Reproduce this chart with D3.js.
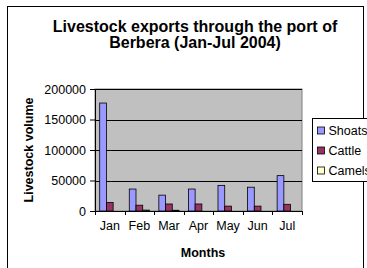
<!DOCTYPE html>
<html>
<head>
<meta charset="utf-8">
<script src="https://cdn.jsdelivr.net/npm/d3@7"></script>
<style>
  body { margin: 0; background: #fff; }
  svg text { font-family: "Liberation Sans", Arial, sans-serif; fill: #000; }
</style>
</head>
<body>
<svg id="chart"></svg>
<script>
// data
const months = ['Jan', 'Feb', 'Mar', 'Apr', 'May', 'Jun', 'Jul'];
const seriesNames = ['Shoats', 'Cattle', 'Camels'];
const shoats = [177000, 36000, 26000, 36000, 42000, 39000, 58000];
const cattle = [14000, 9500, 11500, 11500, 8000, 8000, 11000];
const camels = [0, 1500, 1200, 0, 0, 0, 0];
const yTicks = [0, 50000, 100000, 150000, 200000];
const colors = ['#9999ff', '#993366', '#ffffcc'];

const width = 367, height = 268;
const margin = {top: 89, right: 65, bottom: 57, left: 95};
const innerW = width - margin.left - margin.right;
const innerH = height - margin.top - margin.bottom;

const rows = months.map((m, i) => ({month: m, values: [shoats[i], cattle[i], camels[i]]}));

const svg = d3.select('#chart')
    .attr('width', width)
    .attr('height', height);

// outer chart border
svg.append('rect')
    .attr('x', 7.5).attr('y', 6.5)
    .attr('width', 356).attr('height', 270)
    .attr('fill', '#fff')
    .attr('stroke', '#000');

const chart = svg.append('g')
    .attr('transform', `translate(${margin.left},${margin.top})`);

const xScale = d3.scaleBand()
    .domain(months)
    .range([0, innerW]);

const xInner = d3.scaleBand()
    .domain(seriesNames)
    .range([0, xScale.bandwidth()])
    .paddingInner(0)
    .paddingOuter(0.7);

const yScale = d3.scaleLinear()
    .domain([0, 200000])
    .range([innerH, 0]);

// plot area
chart.append('rect')
    .attr('width', innerW).attr('height', innerH)
    .attr('fill', '#c0c0c0')
    .attr('stroke', '#808080');

chart.selectAll('.grid')
    .data(yTicks.slice(1))
    .join('line')
    .attr('class', 'grid')
    .attr('x1', 0).attr('x2', innerW)
    .attr('y1', d => Math.round(yScale(d)) + 0.5)
    .attr('y2', d => Math.round(yScale(d)) + 0.5)
    .attr('stroke', '#000');

// bars
const groups = chart.selectAll('.month')
    .data(rows)
    .join('g')
    .attr('class', 'month')
    .attr('transform', d => `translate(${xScale(d.month)},0)`);

groups.selectAll('rect')
    .data(d => d.values.map((v, j) => ({name: seriesNames[j], value: v, j})))
    .join('rect')
    .filter(d => d.value > 0)
    .attr('x', d => xInner(d.name))
    .attr('width', xInner.bandwidth())
    .attr('y', d => yScale(d.value))
    .attr('height', d => innerH - yScale(d.value))
    .attr('fill', d => colors[d.j])
    .attr('stroke', '#000')
    .attr('stroke-width', 0.8);

// axes
const xAxis = d3.axisBottom(xScale).tickSize(0).tickPadding(10);
const xAxisG = chart.append('g')
    .attr('transform', `translate(0,${innerH})`)
    .call(xAxis);
xAxisG.select('.domain').attr('stroke', '#000');
xAxisG.selectAll('text').attr('font-size', 12.5);
xAxisG.selectAll('.sep')
    .data(d3.range(months.length + 1))
    .join('line')
    .attr('class', 'sep')
    .attr('x1', i => Math.round(i * xScale.step()) + 0.5)
    .attr('x2', i => Math.round(i * xScale.step()) + 0.5)
    .attr('y1', 0).attr('y2', 4)
    .attr('stroke', '#000');

const yAxis = d3.axisLeft(yScale).tickValues(yTicks).tickSize(5).tickPadding(4).tickFormat(d3.format('d'));
const yAxisG = chart.append('g').call(yAxis);
yAxisG.select('.domain').attr('stroke', '#000').attr('d', `M0.5,${innerH}V0`);
yAxisG.selectAll('text').attr('font-size', 12.5);

// titles
const title = svg.append('text')
    .attr('x', 196).attr('text-anchor', 'middle')
    .attr('font-size', 16).attr('font-weight', 'bold');
title.append('tspan').attr('x', 195).attr('y', 32).text('Livestock exports through the port of');
title.append('tspan').attr('x', 195).attr('y', 48).text('Berbera (Jan-Jul 2004)');

svg.append('text')
    .attr('transform', 'translate(33,150) rotate(-90)')
    .attr('text-anchor', 'middle')
    .attr('font-size', 12.5).attr('font-weight', 'bold')
    .text('Livestock volume');

svg.append('text')
    .attr('x', 203).attr('y', 257)
    .attr('text-anchor', 'middle')
    .attr('font-size', 12.5).attr('font-weight', 'bold')
    .text('Months');

// legend
const legend = svg.append('g').attr('transform', 'translate(312.5,118.5)');
legend.append('rect')
    .attr('width', 70).attr('height', 63)
    .attr('fill', '#fff').attr('stroke', '#000');
const items = legend.selectAll('.item')
    .data(seriesNames)
    .join('g')
    .attr('class', 'item')
    .attr('transform', (d, i) => `translate(5,${12 + i * 20})`);
items.append('rect')
    .attr('x', 0).attr('y', -3.5)
    .attr('width', 7).attr('height', 7)
    .attr('fill', (d, i) => colors[i])
    .attr('stroke', '#000').attr('stroke-width', 0.8);
items.append('text')
    .attr('x', 11).attr('y', 4.5)
    .attr('font-size', 12.5)
    .text(d => d);
</script>
</body>
</html>
